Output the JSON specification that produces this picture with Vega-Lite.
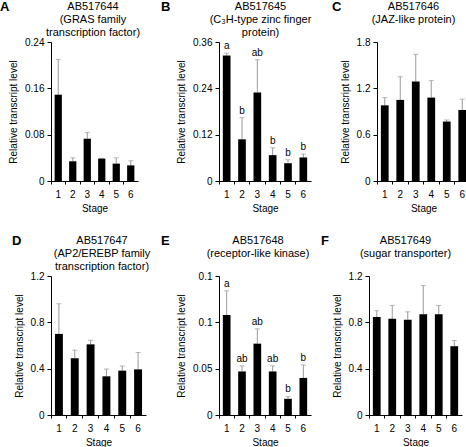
{
  "$schema": "https://vega.github.io/schema/vega-lite/v6.json",
  "padding": {"left": 0, "top": 1, "right": 0, "bottom": 0},
  "config": {
    "font": "Liberation Sans",
    "view": {"stroke": null},
    "axis": {"grid": false, "domainColor": "#000", "tickColor": "#000", "labelColor": "#000", "titleColor": "#000", "labelFontSize": 10, "titleFontSize": 10, "titleFontWeight": "normal", "labelFont": "Liberation Sans", "titleFont": "Liberation Sans"},
    "axisX": {"tickSize": 3, "labelPadding": 5, "titlePadding": 4, "labelAngle": 0, "bandPosition": 0},
    "axisY": {"tickSize": 4, "labelPadding": 3, "titlePadding": 6, "format": "~g"},
    "title": {"font": "Liberation Sans", "color": "#000"}
  },
  "datasets": {
    "A": [
      {"stage": "1", "mean": 0.149, "upper": 0.210},
      {"stage": "2", "mean": 0.034, "upper": 0.040},
      {"stage": "3", "mean": 0.073, "upper": 0.084},
      {"stage": "4", "mean": 0.0386, "upper": 0.039},
      {"stage": "5", "mean": 0.030, "upper": 0.040},
      {"stage": "6", "mean": 0.027, "upper": 0.035}
    ],
    "B": [
      {"stage": "1", "mean": 0.325, "upper": 0.331, "sig": "a"},
      {"stage": "2", "mean": 0.108, "upper": 0.164, "sig": "b"},
      {"stage": "3", "mean": 0.229, "upper": 0.314, "sig": "ab"},
      {"stage": "4", "mean": 0.067, "upper": 0.086, "sig": "b"},
      {"stage": "5", "mean": 0.046, "upper": 0.055, "sig": "b"},
      {"stage": "6", "mean": 0.061, "upper": 0.070, "sig": "b"}
    ],
    "C": [
      {"stage": "1", "mean": 0.98, "upper": 1.08},
      {"stage": "2", "mean": 1.05, "upper": 1.35},
      {"stage": "3", "mean": 1.29, "upper": 1.64},
      {"stage": "4", "mean": 1.08, "upper": 1.30},
      {"stage": "5", "mean": 0.77, "upper": 0.79},
      {"stage": "6", "mean": 0.92, "upper": 1.06}
    ],
    "D": [
      {"stage": "1", "mean": 0.70, "upper": 0.96},
      {"stage": "2", "mean": 0.49, "upper": 0.56},
      {"stage": "3", "mean": 0.61, "upper": 0.645},
      {"stage": "4", "mean": 0.334, "upper": 0.397},
      {"stage": "5", "mean": 0.383, "upper": 0.423},
      {"stage": "6", "mean": 0.394, "upper": 0.54}
    ],
    "E": [
      {"stage": "1", "mean": 0.108, "upper": 0.134, "sig": "a"},
      {"stage": "2", "mean": 0.047, "upper": 0.053, "sig": "ab"},
      {"stage": "3", "mean": 0.077, "upper": 0.093, "sig": "ab"},
      {"stage": "4", "mean": 0.047, "upper": 0.053, "sig": "ab"},
      {"stage": "5", "mean": 0.0175, "upper": 0.020, "sig": "b"},
      {"stage": "6", "mean": 0.040, "upper": 0.054, "sig": "b"}
    ],
    "F": [
      {"stage": "1", "mean": 0.846, "upper": 0.90},
      {"stage": "2", "mean": 0.831, "upper": 0.946},
      {"stage": "3", "mean": 0.823, "upper": 0.891},
      {"stage": "4", "mean": 0.869, "upper": 1.117},
      {"stage": "5", "mean": 0.869, "upper": 0.946},
      {"stage": "6", "mean": 0.594, "upper": 0.643}
    ]
  },
  "spacing": 22,
  "vconcat": [
    {
      "spacing": 20,
      "hconcat": [
        {
          "title": {"text": "A", "anchor": "start", "frame": "bounds", "dx": -8.5, "offset": -13, "fontSize": 13, "fontWeight": "bold"},
          "vconcat": [{
            "width": 87, "height": 139,
            "title": {"text": ["AB517644", "(GRAS family", "transcription factor)"], "anchor": "middle", "frame": "group", "offset": -1, "dx": -1.5, "fontSize": 11, "lineHeight": 13, "fontWeight": "normal"},
            "data": {"name": "A"},
            "encoding": {"x": {"field": "stage", "type": "ordinal", "title": "Stage", "scale": {"paddingInner": 0, "paddingOuter": 0}}},
            "layer": [
              {"mark": {"type": "rule", "color": "#999999", "strokeWidth": 1}, "encoding": {"y": {"field": "mean", "type": "quantitative"}, "y2": {"field": "upper"}}},
              {"mark": {"type": "tick", "color": "#999999", "size": 5, "thickness": 1}, "encoding": {"y": {"field": "upper", "type": "quantitative"}}},
              {"mark": {"type": "bar", "color": "#000000", "width": {"band": 0.5}}, "encoding": {"y": {"field": "mean", "type": "quantitative", "title": "Relative transcript level", "scale": {"domain": [0, 0.24], "nice": false}, "axis": {"values": [0, 0.08, 0.16, 0.24], "labelExpr": "datum.value === 0 ? '0' : format(datum.value, '.2f')"}}}}
            ]
          }]
        },
        {
          "title": {"text": "B", "anchor": "start", "frame": "bounds", "dx": -15.5, "offset": -13, "fontSize": 13, "fontWeight": "bold"},
          "vconcat": [{
            "width": 92, "height": 139,
            "title": {"text": ["AB517645", "(C₃H-type zinc finger", "protein)"], "anchor": "middle", "frame": "group", "offset": -1, "dx": -4.5, "fontSize": 11, "lineHeight": 13, "fontWeight": "normal"},
            "data": {"name": "B"},
            "encoding": {"x": {"field": "stage", "type": "ordinal", "title": "Stage", "scale": {"paddingInner": 0, "paddingOuter": 0}}},
            "layer": [
              {"mark": {"type": "rule", "color": "#999999", "strokeWidth": 1}, "encoding": {"y": {"field": "mean", "type": "quantitative"}, "y2": {"field": "upper"}}},
              {"mark": {"type": "tick", "color": "#999999", "size": 5, "thickness": 1}, "encoding": {"y": {"field": "upper", "type": "quantitative"}}},
              {"mark": {"type": "bar", "color": "#000000", "width": {"band": 0.5}}, "encoding": {"y": {"field": "mean", "type": "quantitative", "title": "Relative transcript level", "scale": {"domain": [0, 0.36], "nice": false}, "axis": {"values": [0, 0.12, 0.24, 0.36], "labelExpr": "datum.value === 0 ? '0' : format(datum.value, '.2f')"}}}},
              {"mark": {"type": "text", "baseline": "bottom", "dy": -2, "fontSize": 10, "color": "#000"}, "encoding": {"y": {"field": "upper", "type": "quantitative"}, "text": {"field": "sig"}}}
            ]
          }]
        },
        {
          "title": {"text": "C", "anchor": "start", "frame": "bounds", "dx": -8, "offset": -13, "fontSize": 13, "fontWeight": "bold"},
          "vconcat": [{
            "width": 93, "height": 139,
            "title": {"text": ["AB517646", "(JAZ-like protein)", " "], "anchor": "middle", "frame": "group", "offset": -1, "dx": -10, "fontSize": 11, "lineHeight": 13, "fontWeight": "normal"},
            "data": {"name": "C"},
            "encoding": {"x": {"field": "stage", "type": "ordinal", "title": "Stage", "scale": {"paddingInner": 0, "paddingOuter": 0}}},
            "layer": [
              {"mark": {"type": "rule", "color": "#999999", "strokeWidth": 1}, "encoding": {"y": {"field": "mean", "type": "quantitative"}, "y2": {"field": "upper"}}},
              {"mark": {"type": "tick", "color": "#999999", "size": 5, "thickness": 1}, "encoding": {"y": {"field": "upper", "type": "quantitative"}}},
              {"mark": {"type": "bar", "color": "#000000", "width": {"band": 0.5}}, "encoding": {"y": {"field": "mean", "type": "quantitative", "title": "Relative transcript level", "scale": {"domain": [0, 1.8], "nice": false}, "axis": {"values": [0, 0.6, 1.2, 1.8]}}}}
            ]
          }]
        }
      ]
    },
    {
      "spacing": 10,
      "hconcat": [
        {
          "title": {"text": "D", "anchor": "start", "frame": "bounds", "dx": -2, "offset": -13, "fontSize": 13, "fontWeight": "bold"},
          "vconcat": [{
            "width": 95, "height": 139,
            "title": {"text": ["AB517647", "(AP2/EREBP family", "transcription factor)"], "anchor": "middle", "frame": "group", "offset": -1, "dx": 3.5, "fontSize": 11, "lineHeight": 13, "fontWeight": "normal"},
            "data": {"name": "D"},
            "encoding": {"x": {"field": "stage", "type": "ordinal", "title": "Stage", "scale": {"paddingInner": 0, "paddingOuter": 0}}},
            "layer": [
              {"mark": {"type": "rule", "color": "#999999", "strokeWidth": 1}, "encoding": {"y": {"field": "mean", "type": "quantitative"}, "y2": {"field": "upper"}}},
              {"mark": {"type": "tick", "color": "#999999", "size": 5, "thickness": 1}, "encoding": {"y": {"field": "upper", "type": "quantitative"}}},
              {"mark": {"type": "bar", "color": "#000000", "width": {"band": 0.5}}, "encoding": {"y": {"field": "mean", "type": "quantitative", "title": "Relative transcript level", "scale": {"domain": [0, 1.2], "nice": false}, "axis": {"values": [0, 0.4, 0.8, 1.2]}}}}
            ]
          }]
        },
        {
          "title": {"text": "E", "anchor": "start", "frame": "bounds", "dx": -15.5, "offset": -13, "fontSize": 13, "fontWeight": "bold"},
          "vconcat": [{
            "width": 92, "height": 139,
            "title": {"text": ["AB517648", "(receptor-like kinase)", " "], "anchor": "middle", "frame": "group", "offset": -1, "dx": -7, "fontSize": 11, "lineHeight": 13, "fontWeight": "normal"},
            "data": {"name": "E"},
            "encoding": {"x": {"field": "stage", "type": "ordinal", "title": "Stage", "scale": {"paddingInner": 0, "paddingOuter": 0}}},
            "layer": [
              {"mark": {"type": "rule", "color": "#999999", "strokeWidth": 1}, "encoding": {"y": {"field": "mean", "type": "quantitative"}, "y2": {"field": "upper"}}},
              {"mark": {"type": "tick", "color": "#999999", "size": 5, "thickness": 1}, "encoding": {"y": {"field": "upper", "type": "quantitative"}}},
              {"mark": {"type": "bar", "color": "#000000", "width": {"band": 0.5}}, "encoding": {"y": {"field": "mean", "type": "quantitative", "title": "Relative transcript level", "scale": {"domain": [0, 0.15], "nice": false}, "axis": {"values": [0, 0.05, 0.1, 0.15]}}}},
              {"mark": {"type": "text", "baseline": "bottom", "dy": -2, "fontSize": 10, "color": "#000"}, "encoding": {"y": {"field": "upper", "type": "quantitative"}, "text": {"field": "sig"}}}
            ]
          }]
        },
        {
          "title": {"text": "F", "anchor": "start", "frame": "bounds", "dx": -11, "offset": -13, "fontSize": 13, "fontWeight": "bold"},
          "vconcat": [{
            "width": 93, "height": 139,
            "title": {"text": ["AB517649", "(sugar transporter)", " "], "anchor": "middle", "frame": "group", "offset": -1, "dx": -10, "fontSize": 11, "lineHeight": 13, "fontWeight": "normal"},
            "data": {"name": "F"},
            "encoding": {"x": {"field": "stage", "type": "ordinal", "title": "Stage", "scale": {"paddingInner": 0, "paddingOuter": 0}}},
            "layer": [
              {"mark": {"type": "rule", "color": "#999999", "strokeWidth": 1}, "encoding": {"y": {"field": "mean", "type": "quantitative"}, "y2": {"field": "upper"}}},
              {"mark": {"type": "tick", "color": "#999999", "size": 5, "thickness": 1}, "encoding": {"y": {"field": "upper", "type": "quantitative"}}},
              {"mark": {"type": "bar", "color": "#000000", "width": {"band": 0.5}}, "encoding": {"y": {"field": "mean", "type": "quantitative", "title": "Relative transcript level", "scale": {"domain": [0, 1.2], "nice": false}, "axis": {"values": [0, 0.4, 0.8, 1.2]}}}}
            ]
          }]
        }
      ]
    }
  ]
}
